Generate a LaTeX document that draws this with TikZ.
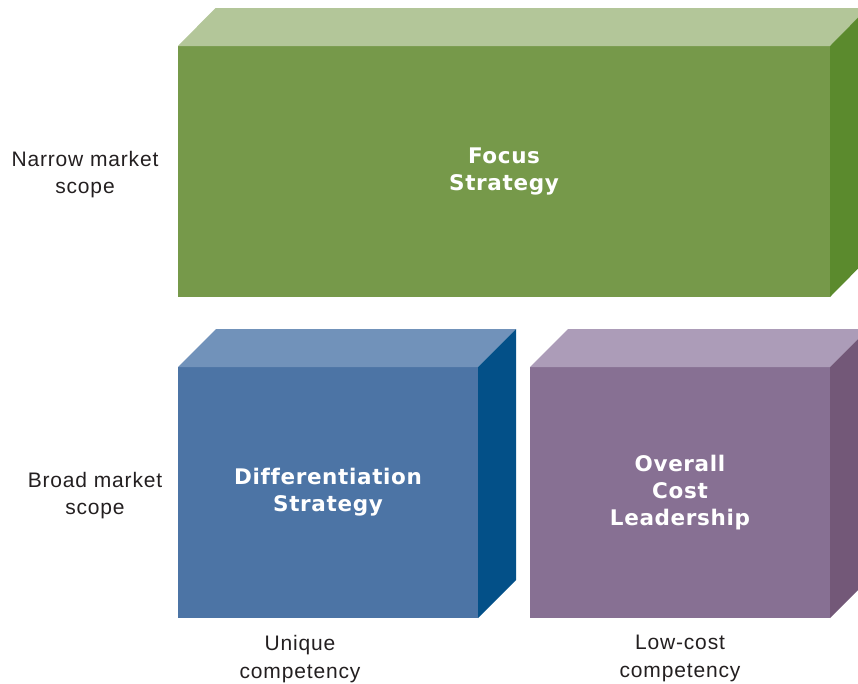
\documentclass[tikz,border=0pt]{standalone}
\usepackage{fontspec}
\setmainfont{Liberation Sans}
\newfontfamily\boxfont[Ligatures=NoCommon]{DejaVu Sans}
\usetikzlibrary{positioning}

\definecolor{greenTop}{HTML}{B3C699}
\definecolor{greenFront}{HTML}{76994A}
\definecolor{greenSide}{HTML}{5B8A2D}
\definecolor{blueTop}{HTML}{7192BA}
\definecolor{blueFront}{HTML}{4C74A5}
\definecolor{blueSide}{HTML}{035088}
\definecolor{purpleTop}{HTML}{AC9CB8}
\definecolor{purpleFront}{HTML}{877093}
\definecolor{purpleSide}{HTML}{735878}
\definecolor{labelGray}{HTML}{231F20}

\begin{document}
\begin{tikzpicture}[x=1pt, y=-1pt,
    front/.style = {rectangle, minimum height=251pt, inner sep=0pt, outer sep=0pt, align=center, text=white,
        font=\boxfont\fontsize{21.5}{27}\selectfont\bfseries\addfontfeature{LetterSpace=3}},
    axislabel/.style = {align=center, text=labelGray, font=\fontsize{21}{27.5}\selectfont\addfontfeature{LetterSpace=4}}
]
\useasboundingbox (0,0) rectangle (858,683);
\clip (0,0) rectangle (858,683);

% Front faces
\node (focus) [front, fill=greenFront, minimum width=652pt] at (504,171.5) {Focus\\Strategy};
\node (diff) [front, fill=blueFront, minimum width=300pt] at (328,492.5) {Differentiation\\Strategy};
\node (cost) [front, fill=purpleFront, minimum width=300pt] at (680,492.5) {Overall\\Cost\\Leadership};

% Top and side faces
\fill [greenTop] (focus.north west) -- ++(37.5,-38) -- ([shift={(37.5,-38)}]focus.north east) -- (focus.north east) -- cycle;
\fill [greenSide] (focus.north east) -- ++(37.5,-38) -- ([shift={(37.5,-38)}]focus.south east) -- (focus.south east) -- cycle;
\fill [blueTop] (diff.north west) -- ++(38,-38) -- ([shift={(38,-38)}]diff.north east) -- (diff.north east) -- cycle;
\fill [blueSide] (diff.north east) -- ++(38,-38) -- ([shift={(38,-38)}]diff.south east) -- (diff.south east) -- cycle;
\fill [purpleTop] (cost.north west) -- ++(38,-38) -- ([shift={(38,-38)}]cost.north east) -- (cost.north east) -- cycle;
\fill [purpleSide] (cost.north east) -- ++(38,-38) -- ([shift={(38,-38)}]cost.south east) -- (cost.south east) -- cycle;

% Labels
\node (narrow) [axislabel] at (85,174.5) {Narrow market\\scope};
\node (broad) [axislabel] at (95,495.5) {Broad market\\scope};
\node (unique) [axislabel, below=14pt of diff.south, xshift=-28pt] {Unique\\competency};
\node (lowcost) [axislabel, below=14pt of cost.south] {Low-cost\\competency};

\end{tikzpicture}
\end{document}
